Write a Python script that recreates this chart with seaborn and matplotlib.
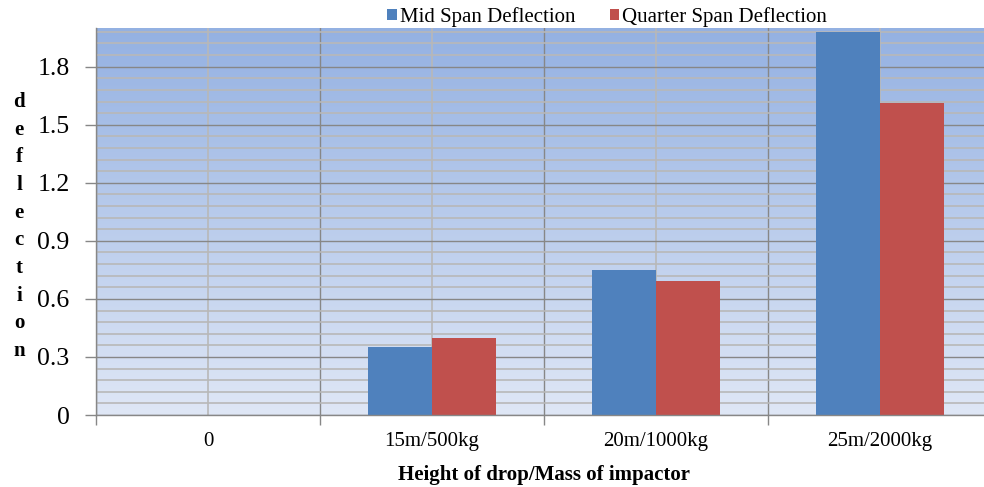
import numpy as np
import pandas as pd
import matplotlib
matplotlib.use("Agg")
import matplotlib.pyplot as plt
from matplotlib.ticker import MultipleLocator, FixedLocator
import seaborn as sns

categories = ["0", "15m/500kg", "20m/1000kg", "25m/2000kg"]
mid_span = [0.0, 0.35, 0.75, 1.98]
quarter_span = [0.0, 0.40, 0.69, 1.61]
series_names = ["Mid Span Deflection", "Quarter Span Deflection"]
y_ticks = [0, 0.3, 0.6, 0.9, 1.2, 1.5, 1.8]
y_tick_labels = ["0", "0.3", "0.6", "0.9", "1.2", "1.5", "1.8"]
y_title = "deflection"
x_title = "Height of drop/Mass of impactor"

df = pd.DataFrame({
    "category": categories * 2,
    "value": mid_span + quarter_span,
    "series": [series_names[0]] * len(categories) + [series_names[1]] * len(categories),
})

plt.rcParams["font.family"] = ["Liberation Serif", "DejaVu Serif"]

W, H = 984, 487
AX_L, AX_R, AX_T, AX_B = 96, 992, 28, 415
fig = plt.figure(figsize=(W / 100, H / 100), dpi=100)
ax = fig.add_axes([AX_L / W, (H - AX_B) / H, (AX_R - AX_L) / W, (AX_B - AX_T) / H])

# gradient background
grad = np.linspace(0, 1, 256).reshape(-1, 1)
top = np.array([148, 177, 226]) / 255
bot = np.array([223, 231, 246]) / 255
img = top[None, None, :] * (1 - grad[:, :, None]) + bot[None, None, :] * grad[:, :, None]
ax.imshow(img, extent=[0, 1, 0, 1], transform=ax.transAxes, aspect="auto", zorder=0)

palette = {series_names[0]: "#4f81bd", series_names[1]: "#c0504d"}
sns.barplot(data=df, x="category", y="value", hue="series", order=categories,
            hue_order=series_names, palette=palette, saturation=1, width=0.567,
            linewidth=0, ax=ax, zorder=2)

ax.set_xlim(-0.5, len(categories) - 0.5)
ax.set_ylim(0, 2.0)

dark = "#878787"
light = "#b8b8b8"

ax.set_axisbelow(True)
ax.yaxis.set_major_locator(FixedLocator(y_ticks))
ax.set_yticklabels(y_tick_labels)
ax.yaxis.set_minor_locator(MultipleLocator(0.06))
ax.xaxis.set_minor_locator(FixedLocator(np.arange(-0.5, len(categories), 1.0)))

ax.grid(which="major", axis="y", color=dark, linewidth=1.0)
ax.grid(which="minor", axis="y", color=light, linewidth=1.2)
ax.grid(which="major", axis="x", color=light, linewidth=1.2)
ax.grid(which="minor", axis="x", color=dark, linewidth=1.0)

ax.tick_params(axis="y", which="major", length=8, width=1, color=dark, pad=11, labelsize=18.5)
ax.tick_params(axis="y", which="minor", length=0)
ax.tick_params(axis="x", which="major", length=0, pad=12, labelsize=15)
ax.tick_params(axis="x", which="minor", length=7, width=1, color=dark)

for s in ["top", "right"]:
    ax.spines[s].set_visible(False)
for s in ["left", "bottom"]:
    ax.spines[s].set_color(dark)
    ax.spines[s].set_linewidth(1.0)

ax.set_xlabel(x_title, fontsize=15, fontweight="bold", labelpad=10)
ax.set_ylabel("")

# stacked vertical-letter y title
span = AX_B - AX_T
x_lab = (19 - AX_L) / (AX_R - AX_L)
for i, ch in enumerate(y_title):
    base_px = 107 + i * 27.67
    ax.text(x_lab, (AX_B - base_px) / span, ch, transform=ax.transAxes,
            fontsize=15, fontweight="bold", ha="center", va="baseline")

handles, labels = ax.get_legend_handles_labels()
if ax.get_legend() is not None:
    ax.get_legend().remove()
fig.legend(handles, labels, loc="center", bbox_to_anchor=(607 / W, 1 - 17 / H), ncol=2,
           frameon=False, fontsize=15, handlelength=0.45, handleheight=0.45,
           handletextpad=0.15, columnspacing=1.65, borderpad=0, borderaxespad=0)

fig.savefig("out.png", dpi=100)
